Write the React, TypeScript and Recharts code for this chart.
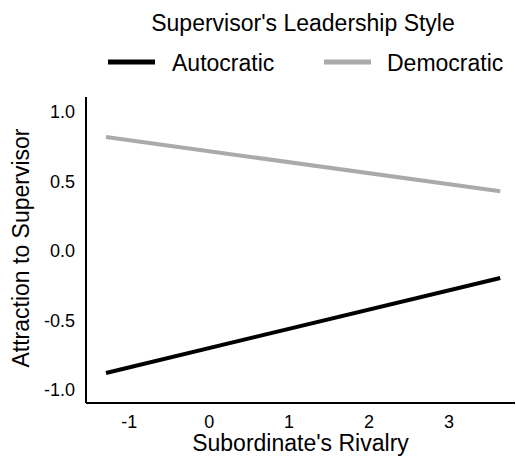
import React from 'react';
import { LineChart, Line, XAxis, YAxis, Label } from 'recharts';

const rivalryX = [-1.29, 3.64];
const autocraticY = [-0.878, -0.194];
const democraticY = [0.82, 0.43];
const xTicks = [-1, 0, 1, 2, 3];
const yTicks = [-1, -0.5, 0, 0.5, 1];
const legendTitle = "Supervisor's Leadership Style";
const seriesNames = ['Autocratic', 'Democratic'];
const seriesColors = ['#000000', '#aaaaaa'];
const xTitle = "Subordinate's Rivalry";
const yTitle = 'Attraction to Supervisor';

const data = rivalryX.map((x, i) => ({ x, autocratic: autocraticY[i], democratic: democraticY[i] }));

const FONT = '"Liberation Sans", Arial, Helvetica, sans-serif';

export default function App() {
  return (
    <div style={{ position: 'fixed', top: 0, left: 0, width: 516, height: 458, background: '#fff', fontFamily: FONT }}>
      <LineChart width={516} height={458} data={data} margin={{ top: 97, right: 1, bottom: 0, left: 0 }}>
        <XAxis
          type="number"
          dataKey="x"
          domain={[-1.54, 3.825]}
          ticks={xTicks}
          tickLine={false}
          axisLine={{ stroke: '#000', strokeWidth: 2 }}
          tickMargin={6}
          height={55}
          tick={{ fontSize: 18, fill: '#000', fontFamily: FONT }}
        >
          <Label
            content={(props: any) => {
              const vb = props.viewBox || {};
              const cx = vb.x + vb.width / 2;
              return (
                <text x={cx} y={451} textAnchor="middle" fontSize={23} fill="#000" fontFamily={FONT}>
                  {xTitle}
                </text>
              );
            }}
          />
        </XAxis>
        <YAxis
          type="number"
          domain={[-1.094, 1.108]}
          ticks={yTicks}
          tickFormatter={(v: number) => v.toFixed(1)}
          tickLine={false}
          axisLine={{ stroke: '#000', strokeWidth: 2 }}
          tickMargin={5}
          width={86}
          tick={{ fontSize: 18, fill: '#000', fontFamily: FONT }}
        >
          <Label
            content={(props: any) => {
              const vb = props.viewBox || {};
              const cy = vb.y + vb.height / 2 - 2;
              const x = 29;
              return (
                <text x={x} y={cy} transform={`rotate(-90 ${x} ${cy})`} textAnchor="middle" fontSize={23} fill="#000" fontFamily={FONT}>
                  {yTitle}
                </text>
              );
            }}
          />
        </YAxis>
        <Line dataKey="autocratic" stroke={seriesColors[0]} strokeWidth={4} dot={false} isAnimationActive={false} />
        <Line dataKey="democratic" stroke={seriesColors[1]} strokeWidth={4} dot={false} isAnimationActive={false} />
      </LineChart>
      <svg width={516} height={90} style={{ position: 'absolute', top: 0, left: 0 }}>
        <text x={303} y={31} textAnchor="middle" fontSize={23} fill="#000" fontFamily={FONT}>{legendTitle}</text>
        <line x1={108} x2={155} y1={62} y2={62} stroke={seriesColors[0]} strokeWidth={5} />
        <text x={172} y={71} fontSize={23} fill="#000" fontFamily={FONT}>{seriesNames[0]}</text>
        <line x1={324} x2={371} y1={62} y2={62} stroke={seriesColors[1]} strokeWidth={5} />
        <text x={387} y={71} fontSize={23} fill="#000" fontFamily={FONT}>{seriesNames[1]}</text>
      </svg>
    </div>
  );
}
